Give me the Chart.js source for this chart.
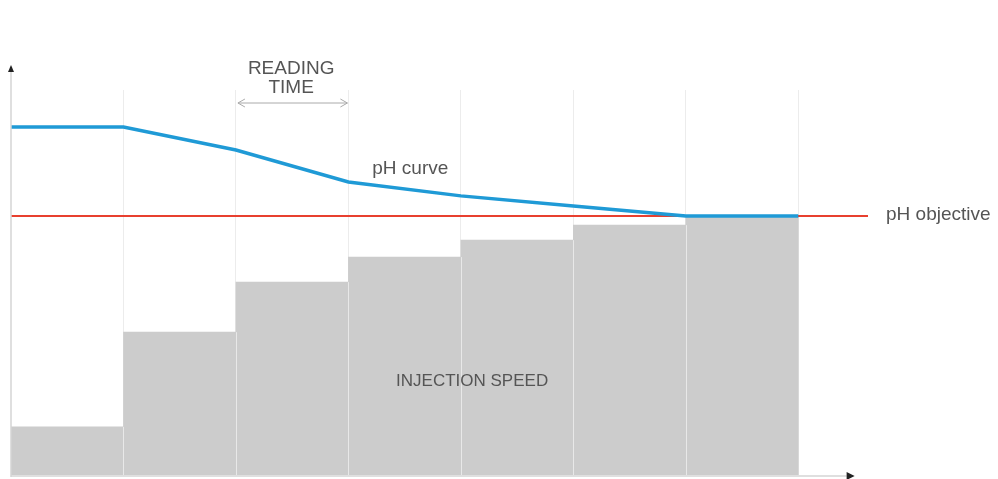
<!DOCTYPE html>
<html><head><meta charset="utf-8">
<script src="https://cdn.jsdelivr.net/npm/chart.js@4.4.1/dist/chart.umd.min.js"></script>
<style>html,body{margin:0;padding:0;background:#fff;}#wrap{width:998px;height:479px;}</style>
</head><body><div id="wrap"><canvas id="c" width="998" height="479"></canvas></div>
<script>
// Steps (time intervals) and values
const steps = [0, 1, 2, 3, 4, 5, 6, 7];
const injectionSpeed = [12.5, 37.1, 50.1, 56.6, 61.0, 64.9, 67.3];
const phCurve = [90.4, 90.4, 84.4, 76.1, 72.5, 69.9, 67.3, 67.3];
const phObjective = 67.3;
const labels = { reading: ['READING', 'TIME'], curve: 'pH curve', speed: 'INJECTION SPEED', objective: 'pH objective' };

const barData = injectionSpeed.map((v, i) => ({ x: steps[i] + 0.5, y: v }));
const phData = phCurve.map((v, i) => ({ x: steps[i], y: v }));
const objData = [{ x: 0, y: phObjective }, { x: 7.62, y: phObjective }];

const annot = {
  id: 'annot',
  afterDatasetsDraw(chart) {
    const { ctx, chartArea: ca, scales: { x, y } } = chart;
    ctx.save();
    // bar separators
    ctx.strokeStyle = 'rgba(255,255,255,0.55)';
    ctx.lineWidth = 1;
    for (let i = 1; i < injectionSpeed.length; i++) {
      const px = Math.round(x.getPixelForValue(steps[i])) + 0.5;
      const top = y.getPixelForValue(Math.min(injectionSpeed[i - 1], injectionSpeed[i]));
      ctx.beginPath(); ctx.moveTo(px, top); ctx.lineTo(px, ca.bottom); ctx.stroke();
    }
    // axes
    ctx.strokeStyle = '#d4d4d4';
    ctx.lineWidth = 1.5;
    const x0 = x.getPixelForValue(0);
    const yb = ca.bottom + 1;
    const xEnd = x.getPixelForValue(7.43);
    ctx.beginPath(); ctx.moveTo(x0, ca.bottom + 2); ctx.lineTo(x0, 70); ctx.stroke();
    ctx.beginPath(); ctx.moveTo(x0, yb); ctx.lineTo(xEnd, yb); ctx.stroke();
    ctx.fillStyle = '#222';
    ctx.beginPath(); ctx.moveTo(x0 - 3, 72); ctx.lineTo(x0, 65); ctx.lineTo(x0 + 3, 72); ctx.closePath(); ctx.fill();
    ctx.beginPath(); ctx.moveTo(xEnd, yb - 4); ctx.lineTo(xEnd + 8, yb); ctx.lineTo(xEnd, yb + 4); ctx.closePath(); ctx.fill();
    // reading time arrow
    const ra = x.getPixelForValue(2) + 2, rb = x.getPixelForValue(3) - 1;
    const ry = 103;
    ctx.strokeStyle = '#aaa'; ctx.lineWidth = 1;
    ctx.beginPath(); ctx.moveTo(ra, ry); ctx.lineTo(rb, ry); ctx.stroke();
    ctx.beginPath(); ctx.moveTo(ra + 7, ry - 4); ctx.lineTo(ra, ry); ctx.lineTo(ra + 7, ry + 4); ctx.stroke();
    ctx.beginPath(); ctx.moveTo(rb - 7, ry - 4); ctx.lineTo(rb, ry); ctx.lineTo(rb - 7, ry + 4); ctx.stroke();
    // texts
    ctx.font = '19px "Liberation Sans", Arial, sans-serif';
    ctx.fillStyle = '#555';
    ctx.textAlign = 'center'; ctx.textBaseline = 'middle';
    const rc = x.getPixelForValue(2.5) - 1;
    ctx.fillText(labels.reading[0], rc, 69);
    ctx.fillText(labels.reading[1], rc, 88);
    ctx.fillText(labels.curve, x.getPixelForValue(3.55), y.getPixelForValue(79.5));
    ctx.textAlign = 'left';
    ctx.fillText(labels.objective, x.getPixelForValue(7.78), y.getPixelForValue(phObjective) - 1);
    ctx.textAlign = 'center';
    ctx.font = '17px "Liberation Sans", Arial, sans-serif';
    ctx.fillText(labels.speed, x.getPixelForValue(4.1), y.getPixelForValue(24.4));
    ctx.restore();
  }
};

new Chart(document.getElementById('c'), {
  type: 'bar',
  data: {
    datasets: [
      { type: 'line', data: phData, borderColor: '#1f9ad6', borderWidth: 3.5, pointRadius: 0, tension: 0, order: 1, clip: false },
      { type: 'line', data: objData, borderColor: '#e8402f', borderWidth: 2, pointRadius: 0, order: 2, clip: false },
      { type: 'bar', data: barData, backgroundColor: '#cccccc', borderWidth: 0, barPercentage: 1, categoryPercentage: 1, order: 3 }
    ]
  },
  options: {
    responsive: false, animation: false,
    layout: { padding: { left: 11, top: 90, right: 130, bottom: 4 } },
    plugins: { legend: { display: false }, tooltip: { enabled: false } },
    scales: {
      x: { type: 'linear', min: 0, max: 7.62, offset: false,
           afterBuildTicks: s => { s.ticks = s.ticks.filter(t => Number.isInteger(t.value)); },
           ticks: { display: false, stepSize: 1 },
           grid: { offset: false, color: ctx => (ctx.tick && ctx.tick.value > 0 && ctx.tick.value <= 7) ? '#ececec' : 'rgba(0,0,0,0)', drawTicks: false, lineWidth: 1 },
           border: { display: false } },
      y: { min: 0, max: 100, ticks: { display: false }, grid: { display: false, drawTicks: false }, border: { display: false } }
    }
  },
  plugins: [annot]
});
</script>
</body></html>
